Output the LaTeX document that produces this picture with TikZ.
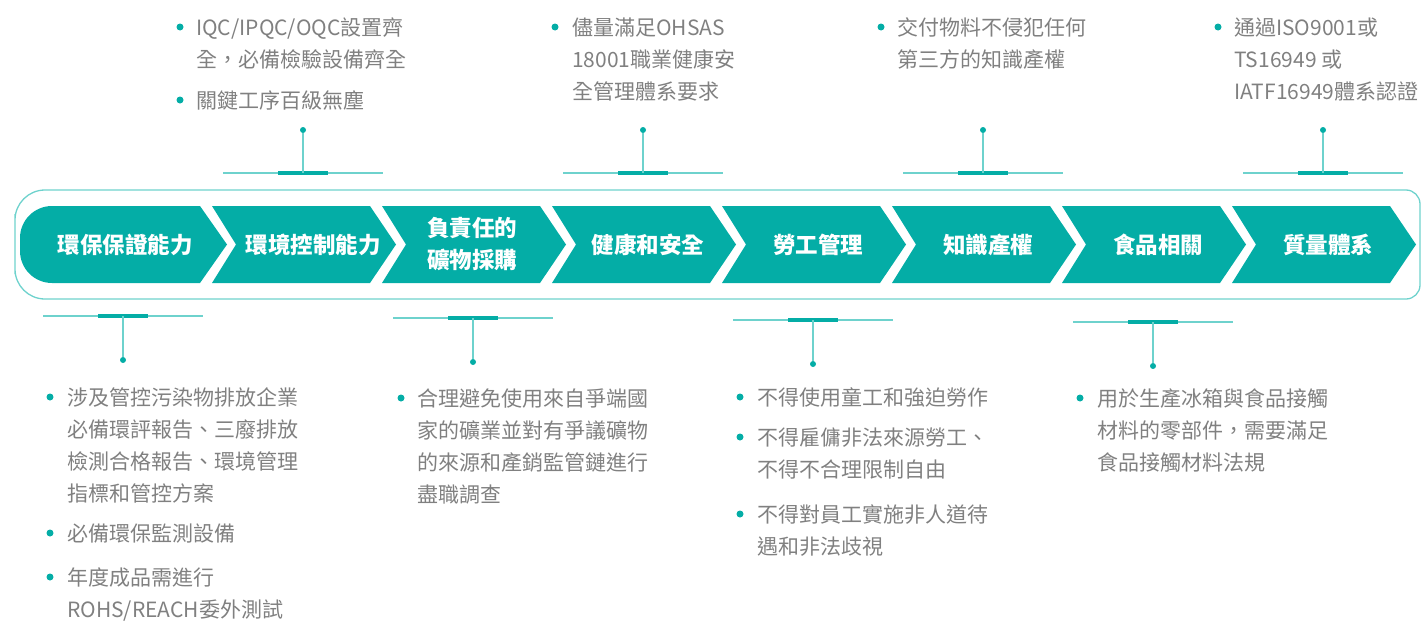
\documentclass[tikz,border=0pt]{standalone}
\usepackage{fontspec}
\setmainfont{Noto Sans CJK TC}
\definecolor{teal1}{HTML}{04ADA6}
\definecolor{teallight}{HTML}{6ED2CD}
\definecolor{txtgray}{HTML}{808080}
\tikzset{
  chev/.style={fill=teal1},
  outerline/.style={draw=teallight, line width=1.3pt},
  clabel/.style={text=white, font=\fontsize{22.5}{32}\selectfont\bfseries, align=center, inner sep=0pt},
  item/.style={text=txtgray, font=\fontsize{21}{32}\selectfont, anchor=base west, inner sep=0pt},
  bul/.style={fill=teal1, circle, inner sep=0pt, minimum size=7pt},
  thinline/.style={draw=teallight, line width=1.2pt},
  barline/.style={draw=teal1, line width=4pt},
  pin/.style={fill=teal1, circle, inner sep=0pt, minimum size=6pt},
}
\newcommand{\itemtext}[1]{\parbox[t]{330pt}{\raggedright #1}}
\begin{document}
\begin{tikzpicture}[x=1pt,y=-1pt]
\useasboundingbox (0,0) rectangle (1421,621);
\begin{scope}
\clip (0,0) rectangle (1421,621);
% outer frame
\draw[outerline, rounded corners=14] (1420,244) |- (700,190) [rounded corners=30] -| (15,244) |- (700,299) [rounded corners=14] -| (1420,244) -- cycle;
\end{scope}
% chevrons
\fill[chev] (200,206) -- (227,244.5) -- (200,283) -- (110,283) [rounded corners=32] -- (20,283) -- (20,206) -- (110,206) [sharp corners] -- (200,206) -- cycle;
\foreach \L in {212,382,552,722,892,1062,1232}{
  \fill[chev] (\L,206) -- ({\L+158},206) -- ({\L+184},244.5) -- ({\L+158},283) -- (\L,283) -- ({\L+24},244.5) -- cycle;
}
% labels
\node[clabel] (c1) at (125,245) {環保保證能力};
\node[clabel] (c2) at (313,245) {環境控制能力};
\node[clabel] (c3) at (472,244) {負責任的\\礦物採購};
\node[clabel] (c4) at (648,245) {健康和安全};
\node[clabel] (c5) at (818,245) {勞工管理};
\node[clabel] (c6) at (988,245) {知識產權};
\node[clabel] (c7) at (1158,245) {食品相關};
\node[clabel] (c8) at (1328,245) {質量體系};
% top connectors
\foreach \c/\n in {303/a,643/b,983/c,1323/d}{
  \coordinate (tl\n) at ({\c-80},173);
  \coordinate (tr\n) at ({\c+80},173);
  \coordinate (tbl\n) at ({\c-25},173);
  \coordinate (tbr\n) at ({\c+25},173);
  \coordinate (tm\n) at (\c,173);
  \node[pin] (tp\n) at (\c,130) {};
  \draw[thinline] (tl\n) -- (tr\n);
  \draw[barline] (tbl\n) -- (tbr\n);
  \draw[thinline] (tm\n) -- (tp\n);
}
% bottom connectors
\foreach \c/\y/\n in {123/316/a,473/318/b,813/320/c,1153/322/d}{
  \coordinate (bl\n) at ({\c-80},\y);
  \coordinate (br\n) at ({\c+80},\y);
  \coordinate (bbl\n) at ({\c-25},\y);
  \coordinate (bbr\n) at ({\c+25},\y);
  \coordinate (bm\n) at (\c,\y);
  \node[pin] (bp\n) at (\c,{\y+44}) {};
  \draw[thinline] (bl\n) -- (br\n);
  \draw[barline] (bbl\n) -- (bbr\n);
  \draw[thinline] (bm\n) -- (bp\n);
}
% top texts
\node[bul] (u1) at (180,27) {};
\node[item] (t1) at (196,35) {\itemtext{IQC/IPQC/OQC設置齊\\全，必備檢驗設備齊全}};
\node[bul] (u2) at (180,100) {};
\node[item] (t2) at (196,108) {\itemtext{關鍵工序百級無塵}};
\node[bul] (u3) at (555,27) {};
\node[item] (t3) at (572,35) {\itemtext{儘量滿足OHSAS\\18001職業健康安\\全管理體系要求}};
\node[bul] (u4) at (881,27) {};
\node[item] (t4) at (897,35) {\itemtext{交付物料不侵犯任何\\第三方的知識產權}};
\node[bul] (u5) at (1218,27) {};
\node[item] (t5) at (1234,35) {\itemtext{通過ISO9001或\\TS16949 或\\IATF16949體系認證}};
% bottom texts
\node[bul] (v1) at (50,397) {};
\node[item] (s1) at (67,405) {\itemtext{涉及管控污染物排放企業\\必備環評報告、三廢排放\\檢測合格報告、環境管理\\指標和管控方案}};
\node[bul] (v2) at (50,533) {};
\node[item] (s2) at (67,541) {\itemtext{必備環保監測設備}};
\node[bul] (v3) at (50,577) {};
\node[item] (s3) at (67,585) {\itemtext{年度成品需進行\\ROHS/REACH委外測試}};
\node[bul] (v4) at (401,398) {};
\node[item] (s4) at (417,406) {\itemtext{合理避免使用來自爭端國\\家的礦業並對有爭議礦物\\的來源和產銷監管鏈進行\\盡職調查}};
\node[bul] (v5) at (740,397) {};
\node[item] (s5) at (757,405) {\itemtext{不得使用童工和強迫勞作}};
\node[bul] (v6) at (740,437) {};
\node[item] (s6) at (757,445) {\itemtext{不得雇傭非法來源勞工、\\不得不合理限制自由}};
\node[bul] (v7) at (740,514) {};
\node[item] (s7) at (757,522) {\itemtext{不得對員工實施非人道待\\遇和非法歧視}};
\node[bul] (v8) at (1080,398) {};
\node[item] (s8) at (1097,406) {\itemtext{用於生產冰箱與食品接觸\\材料的零部件，需要滿足\\食品接觸材料法規}};
\end{tikzpicture}
\end{document}
